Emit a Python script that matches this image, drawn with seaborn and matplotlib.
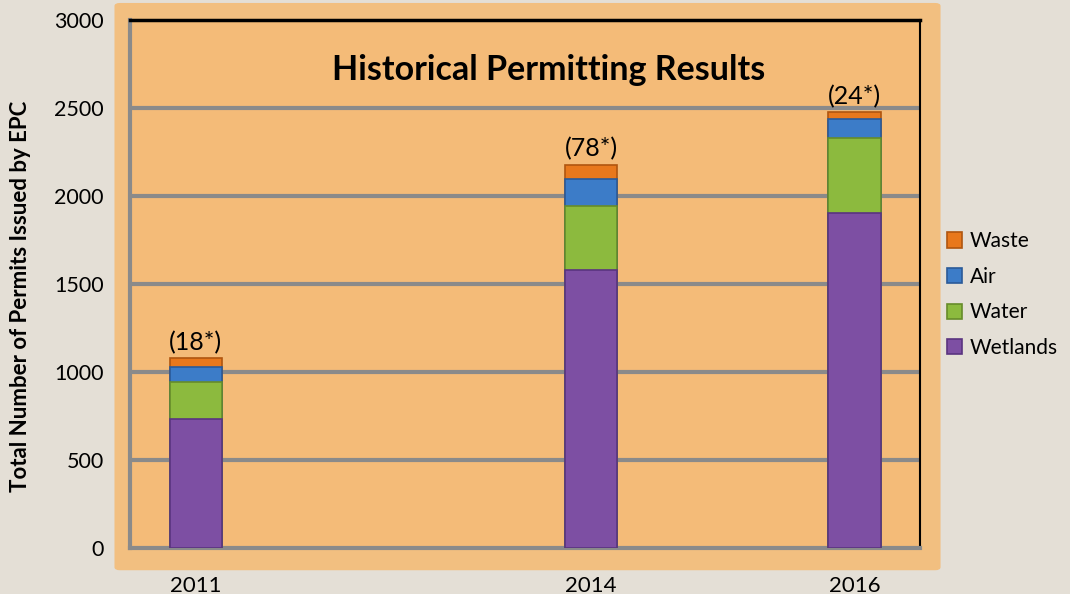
import numpy as np
import pandas as pd
import seaborn as sns
import matplotlib.pyplot as plt
from matplotlib.patches import FancyBboxPatch

# values
years = [2011, 2014, 2016]
wetlands = [733, 1580, 1903]
water = [210, 363, 427]
air = [85, 154, 107]
waste = [50, 79, 40]
waste_labels = ['(18*)', '(78*)', '(24*)']

categories = ['Wetlands', 'Water', 'Air', 'Waste']
colors = {'Wetlands': '#7d4fa3', 'Water': '#8cba3e', 'Air': '#3c7cc8', 'Waste': '#e8781c'}
edges = {'Wetlands': '#5a3480', 'Water': '#668c2a', 'Air': '#2a5a98', 'Waste': '#b0560f'}

df = pd.DataFrame({'year': years, 'Wetlands': wetlands, 'Water': water,
                   'Air': air, 'Waste': waste})
# cumulative tops for stacking
cum = df[categories].cumsum(axis=1)
cum['year'] = df['year']

sns.set_theme(style='white')
plt.rcParams['font.family'] = ['Lato', 'DejaVu Sans']
plt.rcParams['text.color'] = 'black'
plt.rcParams['xtick.color'] = 'black'
plt.rcParams['ytick.color'] = 'black'
plt.rcParams['axes.labelcolor'] = 'black'

fig = plt.figure(figsize=(10.7, 5.94), dpi=100, facecolor='#e4dfd6')
ax = fig.add_axes([0.1215, 0.0774, 0.7385, 0.8886])

# orange glow panel behind the axes
panel = FancyBboxPatch((0.112, 0.045), 0.762, 0.945, boxstyle='round,pad=0.005',
                       transform=fig.transFigure, facecolor='#f2bf80',
                       edgecolor='none', zorder=-10)
fig.patches.append(panel)
ax.set_facecolor('#f4bb78')

# draw the tallest layer first so the lower ones sit on top of it
for cat in reversed(categories):
    sns.barplot(data=cum, x='year', y=cat, native_scale=True, width=0.2,
                color=colors[cat], edgecolor=edges[cat], linewidth=1.2,
                saturation=1, ax=ax, zorder=3, label=cat)

for x, top, lab in zip(years, cum['Waste'], waste_labels):
    ax.text(x, top + 25, lab, ha='center', va='bottom', fontsize=18)

ax.set_xlim(2010.5, 2016.5)
ax.set_ylim(0, 3000)
ax.set_yticks(np.arange(0, 3001, 500))
ax.set_xticks(np.arange(2010.5, 2016.6, 1))
ax.set_xticklabels([])
ax.set_xticks(years, minor=True)
ax.set_xticklabels([str(y) for y in years], minor=True, fontsize=16)
ax.tick_params(axis='x', which='minor', length=0, pad=20)
ax.tick_params(axis='x', which='major', length=6, color='#8a8a8a', width=1.5, direction='out')
ax.tick_params(axis='y', labelsize=15.5, length=5, color='#8a8a8a', width=1.5,
               direction='out', pad=14)

for v in range(500, 3000, 500):
    ax.axhline(v, color='#8a8a8a', linewidth=3, zorder=1)

ax.spines['left'].set_color('#8a8a8a')
ax.spines['left'].set_linewidth(3)
ax.spines['bottom'].set_color('#8a8a8a')
ax.spines['bottom'].set_linewidth(3)
ax.spines['top'].set_color('black')
ax.spines['top'].set_linewidth(2.5)
ax.spines['right'].set_color('black')
ax.spines['right'].set_linewidth(1.5)

ax.set_xlabel('')
ax.set_ylabel('Total Number of Permits Issued by EPC', fontsize=16, fontweight='bold')
ax.yaxis.set_label_coords(-0.125, 0.477)

ax.text(0.53, 0.905, 'Historical Permitting Results', transform=ax.transAxes,
        ha='center', va='center', fontsize=24.5, fontweight='bold')

handles, labels = ax.get_legend_handles_labels()
ax.legend(handles, labels, loc='center left', bbox_to_anchor=(1.01, 0.48),
          frameon=False, fontsize=15, handlelength=0.75, handleheight=0.75,
          labelspacing=0.75, handletextpad=0.35)

fig.savefig('out.png', dpi=100, facecolor=fig.get_facecolor())
